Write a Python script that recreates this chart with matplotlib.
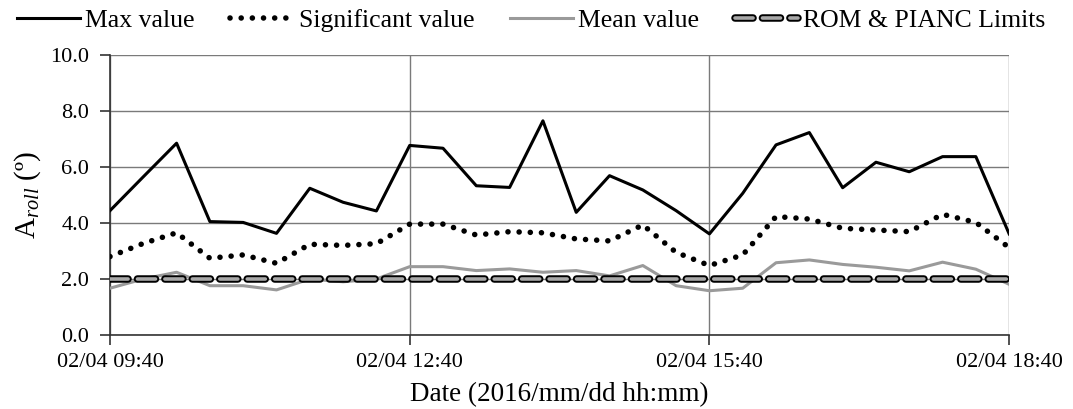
import numpy as np
import pandas as pd
import matplotlib
matplotlib.use('Agg')
import matplotlib.pyplot as plt
import matplotlib.dates as mdates
import matplotlib.patheffects as pe

plt.rcParams['font.family'] = ['Liberation Serif', 'DejaVu Serif']
plt.rcParams['mathtext.fontset'] = 'custom'
plt.rcParams['mathtext.rm'] = 'Liberation Serif'
plt.rcParams['mathtext.it'] = 'Liberation Serif:italic'

# Roll amplitude records, one every 20 minutes on 2016/02/04
times = pd.date_range('2016-02-04 09:40', '2016-02-04 18:40', freq='20min')
max_value = [4.44, 5.65, 6.85, 4.05, 4.02, 3.63, 5.24, 4.74, 4.43, 6.77,
             6.67, 5.33, 5.27, 7.65, 4.38, 5.69, 5.18, 4.44, 3.61, 5.06,
             6.79, 7.23, 5.26, 6.17, 5.83, 6.37, 6.37, 3.61]
sig_value = [2.80, 3.27, 3.65, 2.74, 2.86, 2.56, 3.24, 3.20, 3.26, 3.96,
             3.96, 3.57, 3.69, 3.65, 3.43, 3.36, 3.93, 2.95, 2.48, 2.86,
             4.23, 4.14, 3.81, 3.75, 3.69, 4.31, 4.02, 3.12]
mean_value = [1.67, 2.00, 2.24, 1.76, 1.76, 1.61, 2.00, 1.90, 2.00, 2.44,
              2.44, 2.30, 2.36, 2.24, 2.30, 2.11, 2.48, 1.76, 1.58, 1.67,
              2.58, 2.68, 2.52, 2.42, 2.29, 2.60, 2.35, 1.81]
limit = 2.0

tick_times = pd.to_datetime(['2016-02-04 09:40', '2016-02-04 12:40',
                             '2016-02-04 15:40', '2016-02-04 18:40'])

fig = plt.figure(figsize=(10.73, 4.09), dpi=100)
ax = fig.add_axes([0.1025, 0.181, 0.838, 0.6845])

ax.plot(times, max_value, color='black', lw=2.2, label='Max value', zorder=4)
ax.plot(times, sig_value, color='black', lw=4.0, linestyle=(0, (0.01, 2.0)),
        dash_capstyle='round', label='Significant value', zorder=4)
ax.plot(times, mean_value, color='#9a9a9a', lw=2.2, label='Mean value', zorder=3)
ax.plot(times, [limit] * len(times), color='#a8a8a8', lw=2.6,
        linestyle=(0, (5.0, 2.6)), dash_capstyle='round',
        path_effects=[pe.Stroke(linewidth=5.4, foreground='black'), pe.Normal()],
        label='ROM & PIANC Limits', zorder=5)

ax.set_xlim(tick_times[0], tick_times[-1])
ax.set_ylim(0, 10)
ax.set_yticks(np.arange(0, 10.1, 2))
ax.yaxis.set_major_formatter(plt.FormatStrFormatter('%.1f'))
ax.set_xticks(tick_times)
ax.xaxis.set_major_formatter(mdates.DateFormatter('%m/%d %H:%M'))

ax.grid(True, color='#7a7a7a', lw=1.0)
ax.set_axisbelow(True)
for side in ['top', 'right']:
    ax.spines[side].set_visible(False)
for side in ['left', 'bottom']:
    ax.spines[side].set_color('#333333')
    ax.spines[side].set_linewidth(1.2)
ax.tick_params(axis='both', direction='out', length=7, width=1.2,
               color='#333333', labelsize=16)
ax.tick_params(axis='y', pad=8)
ax.tick_params(axis='x', pad=6)

ax.set_xlabel('Date (2016/mm/dd hh:mm)', fontsize=19.5, labelpad=7)
ax.set_ylabel(r'A$_{roll}$ (º)', fontsize=21, labelpad=5)

fig.legend(loc='upper center', bbox_to_anchor=(0.495, 1.035), ncol=4,
           frameon=False, fontsize=18.5, handlelength=2.45, handletextpad=0.2,
           columnspacing=1.4)

fig.savefig('out.png', dpi=100)
